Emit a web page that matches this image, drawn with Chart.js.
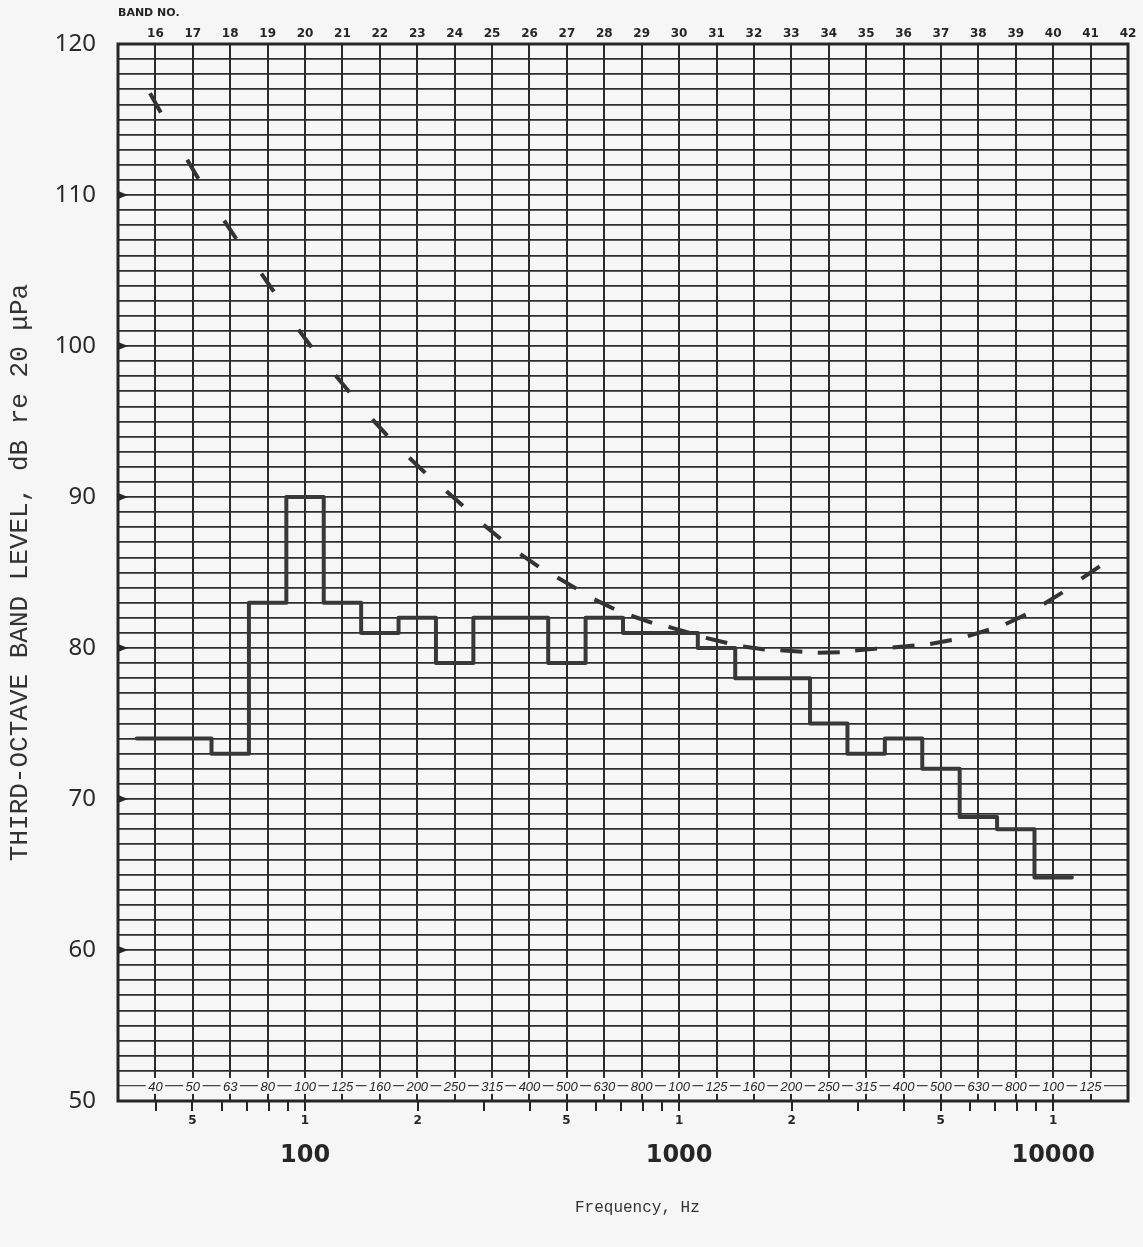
<!DOCTYPE html>
<html>
<head>
<meta charset="utf-8">
<script src="https://cdn.jsdelivr.net/npm/chart.js@4.4.1/dist/chart.umd.min.js"></script>
<style>
  html, body { margin: 0; padding: 0; background: #f6f6f6; }
  canvas { display: block; }
</style>
</head>
<body>
<canvas id="c" width="1143" height="1247"></canvas>
<script>
// ---- data ----
const levelBands = [16,17,18,19,20,21,22,23,24,25,26,27,28,29,30,31,32,33,34,35,36,37,38,39,40];
const bandLevels = [74,74,73,83,90,83,81,82,79,82,82,79,82,81,81,80,78,78,75,73,74,72,68.8,68,64.8];

const curveBands = [16,17,18,19,20,21,22,23,24,25,26,27,28,29,30,31,32,33,34,35,36,37,38,39,40,41];
const curveLevels = [116.1,111.7,107.7,104.2,100.5,97.5,94.6,92.1,89.9,87.7,85.8,84.3,82.9,81.9,81.2,80.5,80.0,79.8,79.7,79.9,80.1,80.4,81.0,81.9,83.3,85.0];

const topBands = [16,17,18,19,20,21,22,23,24,25,26,27,28,29,30,31,32,33,34,35,36,37,38,39,40,41,42];
const topBandLabels = ['16','17','18','19','20','21','22','23','24','25','26','27','28','29','30','31','32','33','34','35','36','37','38','39','40','41','42'];

const rowBands = [16,17,18,19,20,21,22,23,24,25,26,27,28,29,30,31,32,33,34,35,36,37,38,39,40,41];
const rowLabels = ['40','50','63','80','100','125','160','200','250','315','400','500','630','800','100','125','160','200','250','315','400','500','630','800','100','125'];

const freqTicks = [40,50,60,70,80,90,100,200,300,400,500,600,700,800,900,1000,2000,3000,4000,5000,6000,7000,8000,9000,10000];
const freqTickLabels = ['','5','','','','','1','2','','','5','','','','','1','2','','','5','','','','','1'];
const decadeTicks = [100,1000,10000];
const decadeLabels = ['100','1000','10000'];

const yTicks = [50,51,52,53,54,55,56,57,58,59,60,61,62,63,64,65,66,67,68,69,70,71,72,73,74,75,76,77,78,79,80,81,82,83,84,85,86,87,88,89,90,91,92,93,94,95,96,97,98,99,100,101,102,103,104,105,106,107,108,109,110,111,112,113,114,115,116,117,118,119,120];
const arrowLevels = [60,70,80,90,100,110];

const xMinBand = 15, xMaxBand = 42;
const yMin = 50, yMax = 120;

// ---- helpers ----
const hz = b => Math.pow(10, b / 10);
const BG = '#f6f6f6';
const INK = '#262626';

const stepPoints = [];
levelBands.forEach((b, i) => {
  stepPoints.push({ x: hz(b - 0.5), y: bandLevels[i] });
  stepPoints.push({ x: hz(b + 0.5), y: bandLevels[i] });
});
const curvePoints = curveBands.map((b, i) => ({ x: hz(b), y: curveLevels[i] }));

const rowLabelPlugin = {
  id: 'rowLabels',
  beforeDatasetsDraw(chart) {
    const { ctx, scales: { x, y }, chartArea } = chart;
    ctx.save();
    ctx.font = 'italic 13px "Liberation Sans", Arial, sans-serif';
    ctx.textAlign = 'center';
    ctx.textBaseline = 'middle';
    const yy = y.getPixelForValue(51);
    rowLabels.forEach((t, i) => {
      const px = x.getPixelForValue(hz(rowBands[i]));
      const w = ctx.measureText(t).width + 5;
      ctx.fillStyle = BG;
      ctx.fillRect(px - w / 2, yy - 8, w, 16);
      ctx.fillStyle = INK;
      ctx.fillText(t, px, yy + 1);
    });
    // small arrow marks on the left border at every 10 dB
    ctx.fillStyle = INK;
    arrowLevels.forEach(v => {
      const py = y.getPixelForValue(v);
      ctx.beginPath();
      ctx.moveTo(chartArea.left, py - 4);
      ctx.lineTo(chartArea.left + 10, py);
      ctx.lineTo(chartArea.left, py + 4);
      ctx.closePath();
      ctx.fill();
    });
    ctx.restore();
  }
};

const framePlugin = {
  id: 'frame',
  afterDatasetsDraw(chart) {
    const { ctx, chartArea: a } = chart;
    ctx.save();
    ctx.strokeStyle = INK;
    ctx.lineWidth = 3;
    ctx.strokeRect(a.left, a.top, a.right - a.left, a.bottom - a.top);
    ctx.restore();
  }
};

const logBase = {
  type: 'logarithmic',
  min: hz(xMinBand),
  max: hz(xMaxBand),
  border: { display: false }
};

new Chart(document.getElementById('c'), {
  type: 'line',
  data: {
    datasets: [
      {
        label: 'Band level',
        data: stepPoints,
        borderColor: '#383838',
        borderWidth: 4,
        pointRadius: 0,
        tension: 0,
        borderJoinStyle: 'round',
        borderCapStyle: 'round',
        xAxisID: 'x',
        yAxisID: 'y'
      },
      {
        label: 'Criterion',
        data: curvePoints,
        showLine: false,
        pointStyle: 'line',
        pointRadius: 11,
        pointBorderWidth: 4,
        pointBorderColor: '#333333',
        pointBackgroundColor: '#333333',
        rotation: (c) => {
          const ch = c.chart;
          if (c.dataIndex === undefined || !ch.scales || !ch.scales.x || !ch.scales.y) return 0;
          const xs = ch.scales.x, ys = ch.scales.y;
          const i = c.dataIndex, n = curveLevels.length;
          const a = Math.max(0, i - 1), b = Math.min(n - 1, i + 1);
          const dx = xs.getPixelForValue(hz(curveBands[b])) - xs.getPixelForValue(hz(curveBands[a]));
          const dy = ys.getPixelForValue(curveLevels[b]) - ys.getPixelForValue(curveLevels[a]);
          return Math.atan2(dy, dx) * 180 / Math.PI;
        },
        xAxisID: 'x',
        yAxisID: 'y'
      }
    ]
  },
  options: {
    responsive: false,
    animation: false,
    devicePixelRatio: 1,
    layout: { padding: { left: 0, right: 13, top: 0, bottom: 0 } },
    plugins: { legend: { display: false }, tooltip: { enabled: false } },
    scales: {
      x: Object.assign({}, logBase, {
        position: 'bottom',
        weight: 0,
        afterBuildTicks: s => { s.ticks = freqTicks.map(v => ({ value: v })); },
        afterFit: s => { s.height = 30; },
        grid: { drawOnChartArea: false, drawTicks: true, tickLength: 10, color: INK, lineWidth: 2 },
        ticks: {
          autoSkip: false, maxRotation: 0, padding: 3, color: INK,
          font: { family: '"DejaVu Sans", sans-serif', size: 12, weight: 'bold' },
          callback: (v, i) => freqTickLabels[i]
        }
      }),
      x2: Object.assign({}, logBase, {
        position: 'bottom',
        weight: 1,
        afterBuildTicks: s => { s.ticks = decadeTicks.map(v => ({ value: v })); },
        afterFit: s => { s.height = 116; },
        grid: { display: false },
        ticks: {
          autoSkip: false, maxRotation: 0, padding: 2, color: INK,
          font: { family: '"DejaVu Sans", sans-serif', size: 24, weight: 'bold' },
          callback: (v, i) => decadeLabels[i]
        },
        title: {
          display: true, text: '   Frequency, Hz', color: '#333',
          font: { family: '"Liberation Mono", monospace', size: 16 },
          padding: { top: 0, bottom: 30 }
        }
      }),
      xTop: Object.assign({}, logBase, {
        position: 'top',
        afterBuildTicks: s => { s.ticks = topBands.map(b => ({ value: hz(b) })); },
        afterFit: s => { s.height = 44; },
        grid: { drawOnChartArea: true, drawTicks: false, color: '#2a2a2a', lineWidth: 2 },
        ticks: {
          autoSkip: false, maxRotation: 0, padding: 3, color: INK,
          font: { family: '"DejaVu Sans", sans-serif', size: 12, weight: 'bold' },
          callback: (v, i) => topBandLabels[i]
        },
        title: {
          display: true, text: 'BAND NO.', align: 'start', color: INK,
          font: { family: '"DejaVu Sans", sans-serif', size: 11, weight: 'bold' },
          padding: { top: 7, bottom: 0 }
        }
      }),
      y: {
        type: 'linear',
        position: 'left',
        min: yMin, max: yMax,
        border: { display: false },
        afterBuildTicks: s => { s.ticks = yTicks.map(v => ({ value: v })); },
        afterFit: s => { s.width = 118; },
        grid: {
          drawTicks: false,
          color: c => (c.tick && c.tick.value === 51) ? '#444' : '#2e2e2e',
          lineWidth: c => (c.tick && c.tick.value === 51) ? 1.2 : 1.7
        },
        ticks: {
          autoSkip: false, padding: 22, color: '#2a2a2a',
          font: { family: '"Noto Sans", sans-serif', size: 24 },
          callback: v => (v % 10 === 0 ? String(v) : '')
        },
        title: {
          display: true, text: 'THIRD-OCTAVE BAND LEVEL, dB re 20 μPa', color: '#333',
          font: { family: '"Liberation Mono", monospace', size: 26 },
          padding: { top: 5, bottom: 0 }
        }
      }
    }
  },
  plugins: [rowLabelPlugin, framePlugin]
});
</script>
</body>
</html>
